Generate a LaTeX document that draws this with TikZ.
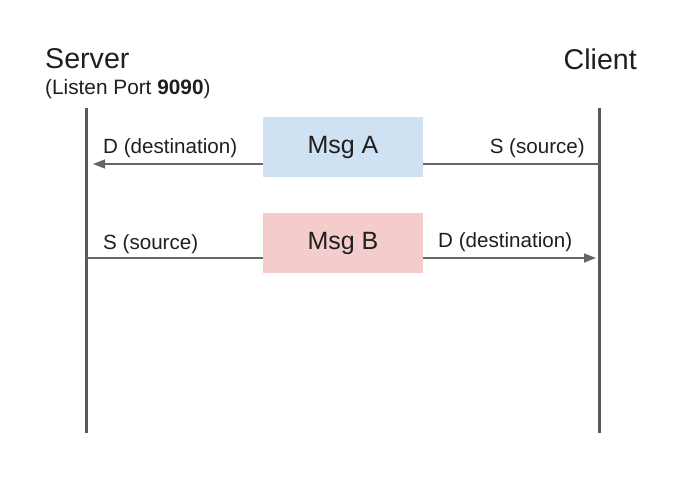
\documentclass[tikz,border=0pt]{standalone}
\usepackage{fontspec}
\setmainfont{Liberation Sans}
\usepackage{xcolor}
\definecolor{life}{HTML}{595959}
\definecolor{wire}{HTML}{666666}
\definecolor{ink}{HTML}{1F1F1F}
\definecolor{msga}{HTML}{CFE2F3}
\definecolor{msgb}{HTML}{F4CCCC}
\usetikzlibrary{arrows.meta,positioning,calc}
\tikzset{
  >={Triangle[length=12pt,width=9pt]},
  lifeline/.style={draw=life,line width=3pt},
  msgbox/.style={minimum width=160pt,minimum height=60pt,inner sep=0pt,font=\fontsize{25}{30}\selectfont,text=ink},
  arr/.style={->,draw=wire,line width=1.6pt},
  lab/.style={font=\fontsize{20.6}{24}\selectfont,text=ink,inner sep=0pt},
  head/.style={font=\fontsize{28.6}{32}\selectfont,text=ink,inner sep=0pt},
}
\begin{document}
\begin{tikzpicture}[x=1pt,y=-1pt]
\useasboundingbox[fill=white] (0,0) rectangle (694,486);
% lifelines
\coordinate (st) at (86,108);
\coordinate (sb) at (86,433);
\coordinate (ct) at (599,108);
\coordinate (cb) at (599,433);
\draw[lifeline] (st) -- (sb);
\draw[lifeline] (ct) -- (cb);
\node[head,anchor=west] (srv) at (45,59) {Server};
\node[lab,anchor=west,font=\fontsize{20.8}{24}\selectfont] (port) at (45,89) {(Listen Port \textbf{9090})};
\node[head,anchor=east] (cli) at (637,59) {Client};
% message A: client -> server
\coordinate (ca) at (599,164);
\coordinate (sa) at (86,164);
\draw[arr,shorten >=7pt] (ca) -- (sa);
\node[msgbox,fill=msga] (ma) at (343,147) {Msg A};
\node[lab,anchor=west] (da) at (103,148) {D (destination)};
\node[lab,anchor=east] (sra) at (585,148) {S (source)};
% message B: server -> client
\coordinate (sb2) at (86,258);
\coordinate (cb2) at (599,258);
\draw[arr,shorten >=3pt] (sb2) -- (cb2);
\node[msgbox,fill=msgb] (mb) at (343,243) {Msg B};
\node[lab,anchor=west] (srb) at (103,244) {S (source)};
\node[lab,anchor=west] (db) at (438,242) {D (destination)};
\end{tikzpicture}
\end{document}
